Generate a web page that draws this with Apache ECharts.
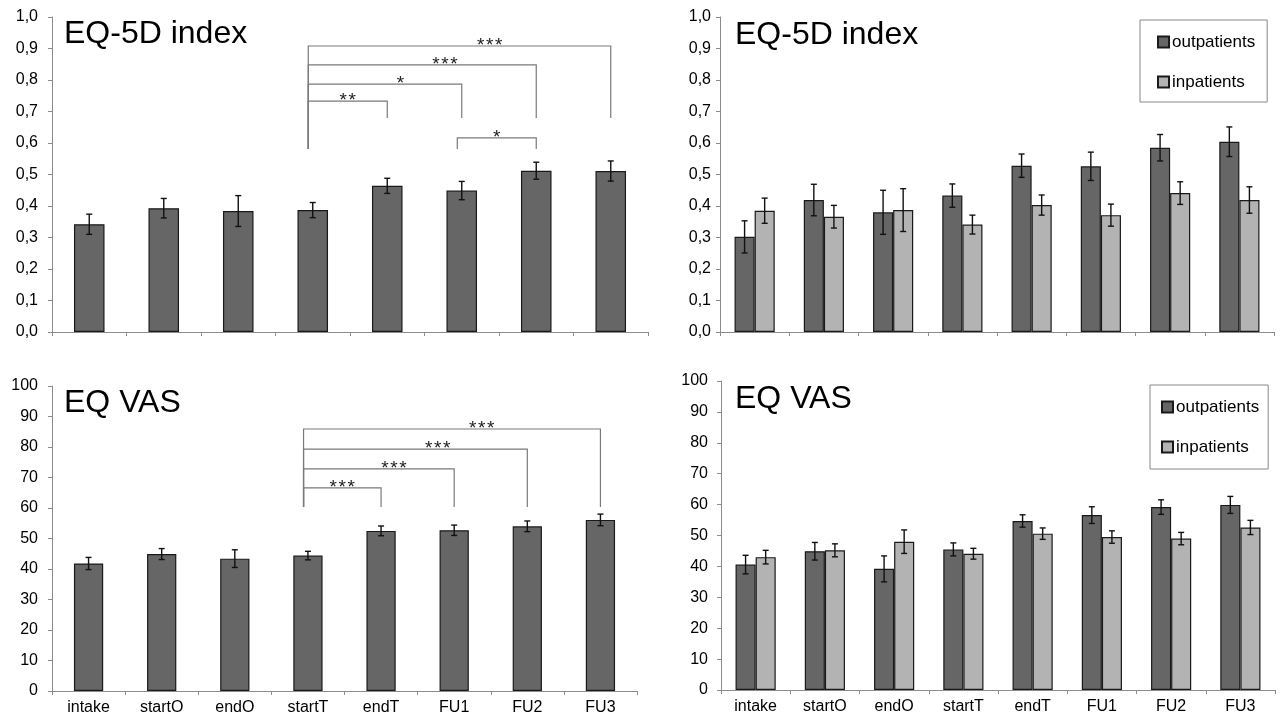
<!DOCTYPE html>
<html>
<head>
<meta charset="utf-8">
<script src="https://cdn.jsdelivr.net/npm/echarts@6/dist/echarts.min.js"></script>
<style>
  html, body { margin: 0; padding: 0; background: #fff; }
  #main { width: 1281px; height: 719px; }
</style>
</head>
<body>
<div id="main"></div>
<script>
const categories = ['intake', 'startO', 'endO', 'startT', 'endT', 'FU1', 'FU2', 'FU3'];

// EQ-5D index, all patients
const indexAll    = [0.342, 0.393, 0.384, 0.387, 0.464, 0.449, 0.512, 0.511];
const indexAllErr = [0.032, 0.031, 0.049, 0.024, 0.024, 0.029, 0.027, 0.032];
// EQ-5D index by setting
const indexOut    = [0.302, 0.419, 0.380, 0.433, 0.528, 0.526, 0.585, 0.604];
const indexOutErr = [0.051, 0.050, 0.070, 0.037, 0.037, 0.045, 0.042, 0.047];
const indexIn     = [0.385, 0.366, 0.387, 0.341, 0.403, 0.371, 0.441, 0.419];
const indexInErr  = [0.040, 0.036, 0.068, 0.030, 0.032, 0.035, 0.036, 0.042];

// EQ VAS, all patients
const vasAll    = [41.8, 44.9, 43.4, 44.4, 52.5, 52.7, 54.0, 56.1];
const vasAllErr = [2.0, 1.8, 2.9, 1.4, 1.6, 1.7, 1.75, 1.9];
// EQ VAS by setting
const vasOut    = [40.6, 44.9, 39.2, 45.5, 54.7, 56.6, 59.2, 59.9];
const vasOutErr = [3.0, 2.85, 4.2, 2.1, 2.0, 2.7, 2.35, 2.75];
const vasIn     = [43.0, 45.2, 48.0, 44.1, 50.6, 49.5, 49.0, 52.6];
const vasInErr  = [2.2, 2.1, 3.8, 1.75, 1.85, 2.0, 2.0, 2.3];

// significance brackets (category indexes, heights in axis units)
const indexBrackets = [
  { from: 3, to: 7, top: 0.908, footFrom: 0.581, footTo: 0.679, label: '***' },
  { from: 3, to: 6, top: 0.848, footFrom: 0.581, footTo: 0.679, label: '***' },
  { from: 3, to: 5, top: 0.787, footFrom: 0.581, footTo: 0.679, label: '*' },
  { from: 3, to: 4, top: 0.733, footFrom: 0.581, footTo: 0.679, label: '**' },
  { from: 5, to: 6, top: 0.616, footFrom: 0.581, footTo: 0.581, label: '*' }
];
const vasBrackets = [
  { from: 3, to: 7, top: 85.9, footFrom: 60.3, footTo: 60.3, label: '***' },
  { from: 3, to: 6, top: 79.3, footFrom: 60.3, footTo: 60.3, label: '***' },
  { from: 3, to: 5, top: 72.8, footFrom: 60.3, footTo: 60.3, label: '***' },
  { from: 3, to: 4, top: 66.6, footFrom: 60.3, footTo: 60.3, label: '***' }
];

const FONT = 'Liberation Sans, Arial, sans-serif';
const DARK = '#666666';
const LIGHT = '#b3b3b3';
const AXIS = '#8c8c8c';

const chart = echarts.init(document.getElementById('main'));

function errData(vals, errs) {
  return vals.map((v, i) => [i, v - errs[i], v + errs[i]]);
}

function errSeries(name, idx, vals, errs, shift) {
  return {
    type: 'custom',
    name: name + ' err',
    xAxisIndex: idx,
    yAxisIndex: idx,
    z: 5,
    silent: true,
    renderItem: function (params, api) {
      const band = api.size([1, 0])[0];
      const lo = api.coord([api.value(0), api.value(1)]);
      const hi = api.coord([api.value(0), api.value(2)]);
      const x = lo[0] + shift * band;
      const cap = 3;
      const style = { stroke: '#111', lineWidth: 1.4 };
      return {
        type: 'group',
        children: [
          { type: 'line', shape: { x1: x, y1: lo[1], x2: x, y2: hi[1] }, style: style },
          { type: 'line', shape: { x1: x - cap, y1: lo[1], x2: x + cap, y2: lo[1] }, style: style },
          { type: 'line', shape: { x1: x - cap, y1: hi[1], x2: x + cap, y2: hi[1] }, style: style }
        ]
      };
    },
    encode: { x: 0, y: [1, 2] },
    data: errData(vals, errs)
  };
}

function bracketSeries(idx, list) {
  return {
    type: 'custom',
    xAxisIndex: idx,
    yAxisIndex: idx,
    z: 6,
    silent: true,
    renderItem: function (params, api) {
      const b = list[params.dataIndex];
      const band = api.size([1, 0])[0];
      const x1 = api.coord([b.from, b.top])[0] - 0.06 * band;
      const x2 = api.coord([b.to, b.top])[0];
      const yT = api.coord([b.from, b.top])[1];
      const yA = api.coord([b.from, b.footFrom])[1];
      const yB = api.coord([b.to, b.footTo])[1];
      const t = (b.to - b.from) >= 2 ? 0.6 : 0.5;
      const cx = x1 + (x2 - x1) * t;
      const stars = b.label.split('');
      const children = [{
        type: 'polyline',
        shape: { points: [[x1, yA], [x1, yT], [x2, yT], [x2, yB]] },
        style: { stroke: '#7a7a7a', lineWidth: 1.2, fill: null }
      }];
      stars.forEach(function (s, k) {
        children.push({
          type: 'text',
          x: cx + (k - (stars.length - 1) / 2) * 9,
          y: yT,
          style: {
            text: s,
            font: '19px ' + FONT,
            fill: '#222',
            align: 'center',
            verticalAlign: 'middle'
          }
        });
      });
      return { type: 'group', children: children };
    },
    encode: { x: 0, y: 1 },
    data: list.map(b => [b.from, b.top])
  };
}

function xAxis(idx, showLabel) {
  return {
    type: 'category',
    gridIndex: idx,
    data: categories,
    boundaryGap: true,
    axisLine: { lineStyle: { color: AXIS, width: 1 } },
    axisTick: { show: true, length: 4, lineStyle: { color: AXIS } },
    axisLabel: { show: showLabel, color: '#000', fontSize: 16, fontFamily: FONT, margin: 9 },
    splitLine: { show: false }
  };
}

function yAxis(idx, max, interval, fmt, margin) {
  return {
    type: 'value',
    gridIndex: idx,
    min: 0,
    max: max,
    interval: interval,
    axisLine: { show: true, lineStyle: { color: AXIS, width: 1 } },
    axisTick: { show: true, length: 4, lineStyle: { color: AXIS } },
    axisLabel: { color: '#000', fontSize: 16, fontFamily: FONT, margin: margin, formatter: fmt },
    splitLine: { show: false }
  };
}

const commaFmt = v => v.toFixed(1).replace('.', ',');
const intFmt = v => String(Math.round(v));

const barStyle = c => ({ color: c, borderColor: '#1a1a1a', borderWidth: 1.2 });

function legend(left, top, padding) {
  return {
    orient: 'vertical',
    left: left,
    top: top,
    data: ['outpatients', 'inpatients'],
    icon: 'rect',
    itemWidth: 11,
    itemHeight: 11,
    itemGap: 20,
    padding: padding,
    borderColor: '#888',
    borderWidth: 1,
    backgroundColor: '#fff',
    selectedMode: false,
    textStyle: { fontSize: 17, fontFamily: FONT, color: '#000', lineHeight: 20, padding: [0, 0, 0, -2] }
  };
}

const titleText = (text, left, top) => ({
  text: text,
  left: left,
  top: top,
  padding: 0,
  textStyle: { fontSize: 32, fontWeight: 'normal', fontFamily: FONT, color: '#000' }
});

const option = {
  animation: false,
  backgroundColor: '#fff',
  title: [
    titleText('EQ-5D index', 64, 18),
    titleText('EQ-5D index', 735, 19),
    titleText('EQ VAS', 64, 387),
    titleText('EQ VAS', 735, 383)
  ],
  legend: [
    legend(1140, 20, [12, 12, 10, 17]),
    legend(1150, 385, [12, 9, 12, 11])
  ],
  grid: [
    { left: 52, top: 17, width: 596, height: 315 },
    { left: 720, top: 17, width: 554, height: 315 },
    { left: 52, top: 386, width: 585, height: 305 },
    { left: 721, top: 381, width: 554, height: 309 }
  ],
  xAxis: [xAxis(0, false), xAxis(1, false), xAxis(2, true), xAxis(3, true)],
  yAxis: [
    yAxis(0, 1, 0.1, commaFmt, 14),
    yAxis(1, 1, 0.1, commaFmt, 9),
    yAxis(2, 100, 10, intFmt, 14),
    yAxis(3, 100, 10, intFmt, 13)
  ],
  series: [
    { type: 'bar', name: 'all', xAxisIndex: 0, yAxisIndex: 0, data: indexAll, barWidth: '41%', itemStyle: barStyle(DARK) },
    errSeries('all', 0, indexAll, indexAllErr, 0),
    bracketSeries(0, indexBrackets),

    { type: 'bar', name: 'outpatients', xAxisIndex: 1, yAxisIndex: 1, data: indexOut, barWidth: '29%', barGap: '0%', itemStyle: barStyle(DARK) },
    { type: 'bar', name: 'inpatients', xAxisIndex: 1, yAxisIndex: 1, data: indexIn, barWidth: '29%', barGap: '0%', itemStyle: barStyle(LIGHT) },
    errSeries('outpatients', 1, indexOut, indexOutErr, -0.145),
    errSeries('inpatients', 1, indexIn, indexInErr, 0.145),

    { type: 'bar', name: 'all vas', xAxisIndex: 2, yAxisIndex: 2, data: vasAll, barWidth: '40%', itemStyle: barStyle(DARK) },
    errSeries('all vas', 2, vasAll, vasAllErr, 0),
    bracketSeries(2, vasBrackets),

    { type: 'bar', name: 'outpatients', xAxisIndex: 3, yAxisIndex: 3, data: vasOut, barWidth: '29%', barGap: '0%', itemStyle: barStyle(DARK) },
    { type: 'bar', name: 'inpatients', xAxisIndex: 3, yAxisIndex: 3, data: vasIn, barWidth: '29%', barGap: '0%', itemStyle: barStyle(LIGHT) },
    errSeries('outpatients', 3, vasOut, vasOutErr, -0.145),
    errSeries('inpatients', 3, vasIn, vasInErr, 0.145)
  ]
};

chart.setOption(option);
</script>
</body>
</html>
